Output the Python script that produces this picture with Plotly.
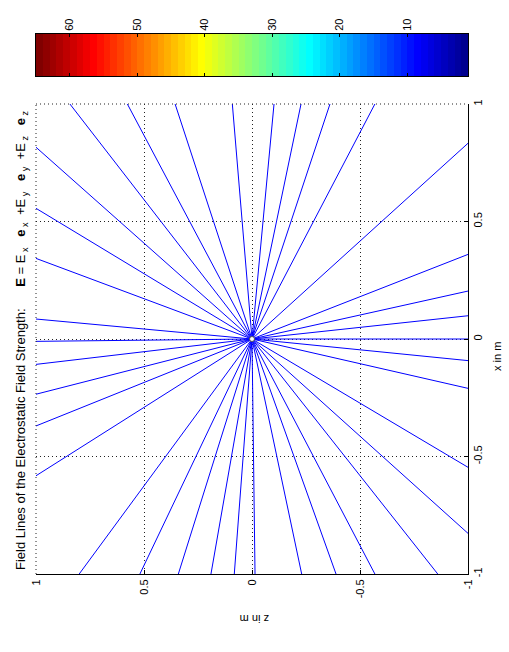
import plotly.graph_objects as go

# ---------------- data (plot x-axis = z coordinate, plot y-axis = x coordinate) ----------------
# end points of the field lines on the border of the box, (z, x) in metres
top_z = [0.843, 0.577, 0.356, 0.091, -0.102, -0.227, -0.361, -0.569]          # x = 1
left_x = [0.816, 0.556, 0.343, 0.085, -0.01, -0.108, -0.235, -0.370, -0.582]  # z = 1
right_x = [0.833, 0.360, 0.204, 0.099, 0.0, -0.092, -0.210, -0.546, -0.827]   # z = -1
bottom_z = [0.800, 0.519, 0.341, 0.190, 0.082, -0.014, -0.230, -0.389, -0.569, -0.860]  # x = -1

z_ticks = [1, 0.5, 0, -0.5, -1]
z_ticktext = ["1", "0.5", "0", "-0.5", "-1"]
x_ticks = [-1, -0.5, 0, 0.5, 1]
x_ticktext = ["-1", "-0.5", "0", "0.5", "1"]
grid_vals = [-0.5, 0, 0.5]
cbar_ticks = [10, 20, 30, 40, 50, 60]
cbar_min, cbar_max = 1, 65
n_colors = 64

S = "&nbsp;"
def comp(sym):
    return ("E<sub>" + S + sym + "</sub>" + S * 3 + "<b>e</b><sub>" + S + sym + "</sub>")
title_text = ("Field Lines of the Electrostatic Field Strength:" + S * 6 +
              "<b>E</b>" + S + "=" + S + comp("x") + S * 2 + "+" + comp("y") + S * 2 + "+" + comp("z"))

# ---------------- build polylines ----------------
ends = ([(z, 1.0) for z in top_z] + [(1.0, x) for x in left_x] +
        [(-1.0, x) for x in right_x] + [(z, -1.0) for z in bottom_z])
lz, lx = [], []
for z, x in ends:
    lz += [0.0, z, None]
    lx += [0.0, x, None]

W, H = 509, 652
def fx(p): return p / W
def fy(p): return 1 - p / H

FONT = "Liberation Sans, Arial, Helvetica, sans-serif"

# MATLAB-like jet colormap
def clip(v): return max(0.0, min(1.0, v))
jet = []
for i in range(n_colors):
    t = (i + 1) / n_colors
    r = clip(1.5 - abs(4 * t - 3)); g = clip(1.5 - abs(4 * t - 2)); b = clip(1.5 - abs(4 * t - 1))
    jet.append("rgb(%d,%d,%d)" % (round(r * 255), round(g * 255), round(b * 255)))
cscale = []
for i, c in enumerate(jet):
    cscale.append([i / n_colors, c])
    cscale.append([(i + 1) / n_colors, c])

fig = go.Figure()
fig.add_trace(go.Scatter(x=lz, y=lx, mode="lines", line=dict(color="#0000ff", width=1),
                         xaxis="x", yaxis="y", hoverinfo="skip", showlegend=False))
fig.add_trace(go.Scatter(x=[0], y=[0], mode="markers",
                         marker=dict(color="white", size=5, line=dict(color="#555", width=1)),
                         xaxis="x", yaxis="y", showlegend=False))
step = (cbar_max - cbar_min) / n_colors
fig.add_trace(go.Heatmap(z=[list(range(n_colors))],
                         x=[cbar_min + step * (i + 0.5) for i in range(n_colors)],
                         y=[0], zmin=-0.5, zmax=n_colors - 0.5, colorscale=cscale,
                         showscale=False, xaxis="x2", yaxis="y2", hoverinfo="skip"))

axfont = dict(family=FONT, size=11, color="black")
DASH = "1px,3px"
MINOR = dict(tickmode="array", tickvals=grid_vals, ticks="", showgrid=True,
             gridcolor="#222", griddash=DASH, gridwidth=1)
fig.update_layout(
    width=W, height=H, margin=dict(l=0, r=0, t=0, b=0, autoexpand=False),
    paper_bgcolor="white", plot_bgcolor="white", showlegend=False,
    xaxis=dict(domain=[fx(36), fx(468)], range=[1, -1], anchor="y", automargin=False,
               tickvals=z_ticks, ticktext=z_ticktext, tickangle=-90, tickfont=axfont,
               ticks="inside", ticklen=4, tickcolor="black",
               showline=True, linecolor="black", linewidth=1, mirror=False,
               showgrid=False, zeroline=False, minor=MINOR),
    yaxis=dict(domain=[fy(574), fy(104)], range=[-1, 1], anchor="x", side="right", automargin=False,
               tickvals=x_ticks, ticktext=x_ticktext, tickangle=-90, tickfont=axfont,
               ticks="inside", ticklen=4, tickcolor="black",
               showline=True, linecolor="black", linewidth=1, mirror=False,
               showgrid=False, zeroline=False, minor=MINOR),
    xaxis2=dict(domain=[fx(36), fx(468)], range=[cbar_max, cbar_min], anchor="y2", side="top",
                automargin=False, tickvals=cbar_ticks, tickangle=-90, tickfont=axfont,
                ticks="inside", ticklen=3, tickcolor="black",
                showline=True, linecolor="black", mirror="ticks", showgrid=False, zeroline=False),
    yaxis2=dict(domain=[fy(76), fy(34)], range=[-0.5, 0.5], anchor="x2", automargin=False,
                showticklabels=False, ticks="", showline=True, linecolor="black",
                mirror=True, showgrid=False, zeroline=False),
    shapes=[
        dict(type="line", xref="x domain", yref="y domain", x0=0, x1=0, y0=0, y1=1,
             line=dict(color="#222", width=1, dash=DASH)),
        dict(type="line", xref="x domain", yref="y domain", x0=0, x1=1, y0=1, y1=1,
             line=dict(color="#222", width=1, dash=DASH)),
    ],
    annotations=[
        dict(text=title_text, x=fx(21), y=fy(340), xref="paper", yref="paper",
             textangle=-90, showarrow=False, xanchor="center", yanchor="middle",
             font=dict(family=FONT, size=13, color="black")),
        dict(text="z in m", x=fx(255), y=fy(619), xref="paper", yref="paper",
             textangle=180, showarrow=False, xanchor="center", yanchor="middle",
             font=dict(family=FONT, size=11, color="black")),
        dict(text="x in m", x=fx(497), y=fy(357), xref="paper", yref="paper",
             textangle=-90, showarrow=False, xanchor="center", yanchor="middle",
             font=dict(family=FONT, size=11, color="black")),
    ],
)

fig.write_html("out.html", config={"displayModeBar": False},
               post_script="document.body.style.margin='0px';")
